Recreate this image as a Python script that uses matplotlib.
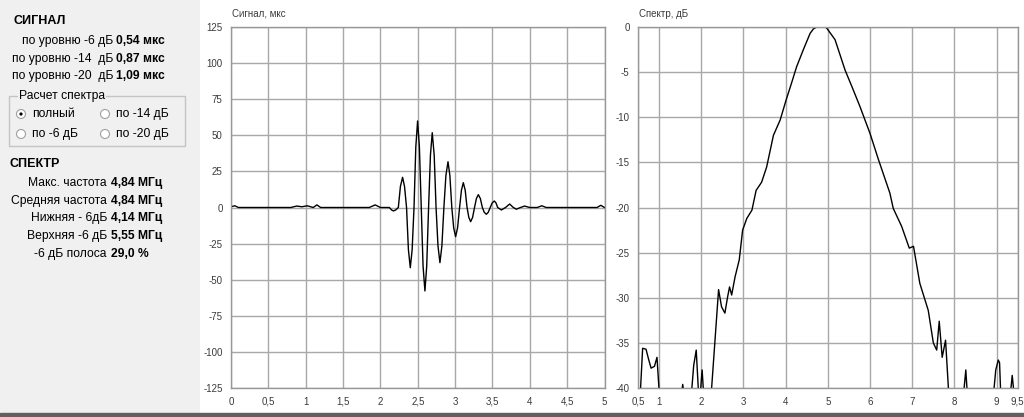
import numpy as np
import matplotlib
matplotlib.use('Agg')
import matplotlib.pyplot as plt
from matplotlib.patches import Rectangle, Circle

plt.rcParams['font.family'] = ['Liberation Sans', 'DejaVu Sans']
plt.rcParams['axes.unicode_minus'] = False

# signal, time in mks / amplitude
sig_t = [0.0, 0.05, 0.1, 0.8, 0.88, 0.95, 1.02, 1.1, 1.15, 1.2, 1.85, 1.93, 2.0,
         2.12, 2.15, 2.175, 2.205, 2.24, 2.268, 2.297, 2.323, 2.35, 2.375, 2.40, 2.425,
         2.45, 2.474, 2.498, 2.522, 2.547, 2.571, 2.596, 2.62, 2.645, 2.67, 2.694, 2.72,
         2.745, 2.771, 2.797, 2.823, 2.85, 2.877, 2.905, 2.93, 2.956, 2.981, 3.007, 3.033,
         3.06, 3.085, 3.11, 3.135, 3.16, 3.184, 3.208, 3.234, 3.26, 3.285, 3.311, 3.338,
         3.365, 3.39, 3.418, 3.444, 3.47, 3.497, 3.525, 3.547, 3.57, 3.62, 3.675, 3.73,
         3.78, 3.82, 3.875, 3.93, 4.0, 4.1, 4.16, 4.22, 4.9, 4.95, 5.0]
sig_v = [0.5, 1.2, 0, 0, 1.0, 0.5, 1.2, 0, 1.8, 0, 0, 1.8, 0,
         0, -1.7, -2.4, -1.7, 0, 14.6, 20.9, 14.6, 0, -29.2, -41.7, -29.2,
         0, 41.9, 59.9, 41.9, 0, -40.5, -57.8, -40.5, 0, 36.3, 51.8, 36.3,
         0, -26.7, -38.2, -26.7, 0, 22.2, 31.7, 22.2, 0, -14.1, -20.2, -14.1,
         0, 12.0, 17.2, 12.0, 0, -6.9, -9.8, -6.9, 0, 6.2, 8.9, 6.2,
         0, -3.3, -4.7, -3.3, 0, 3.2, 4.5, 3.2, 0, -1.7, 0, 2.4,
         0, -1.2, 0, 1.0, 0, 0, 1.2, 0, 0, 1.5, 0]

# spectrum, MHz / dB (values below -40 are off the chart)
spec_f = [0.50, 0.55, 0.61, 0.69, 0.75, 0.81, 0.89, 0.95, 1.01, 1.52, 1.56, 1.60,
          1.76, 1.82, 1.88, 1.94, 1.97, 2.02, 2.06, 2.23, 2.41, 2.48, 2.56, 2.62,
          2.67, 2.72, 2.80, 2.90, 2.98, 3.08, 3.20, 3.30, 3.43, 3.55, 3.71, 3.87,
          4.01, 4.14, 4.26, 4.42, 4.58, 4.66, 4.74, 4.84, 4.93, 4.97, 5.17, 5.41,
          5.57, 5.76, 6.00, 6.20, 6.47, 6.55, 6.75, 6.93, 7.03, 7.18, 7.38, 7.50,
          7.58, 7.64, 7.71, 7.79, 7.87, 8.21, 8.27, 8.31, 8.92, 8.98, 9.04, 9.07,
          9.10, 9.32, 9.37, 9.42, 9.5]
spec_db = [-41, -41, -35.6, -35.7, -36.8, -37.8, -37.6, -36.6, -41, -41, -39.6, -41,
           -41, -37.5, -35.8, -41, -41, -38.0, -41, -41, -29.1, -31.0, -31.7, -30.0,
           -28.8, -29.7, -27.7, -25.8, -22.5, -21.2, -20.3, -18.1, -17.2, -15.5, -12.0, -10.3,
           -8.1, -6.2, -4.4, -2.5, -0.7, -0.2, 0, 0, 0, -0.1, -1.4, -4.8,
           -6.6, -8.8, -11.8, -14.7, -18.4, -20.1, -22.1, -24.5, -24.3, -28.4, -31.4, -35.0,
           -35.8, -32.6, -36.6, -34.7, -41, -41, -38.0, -41, -41, -38.0, -36.9, -37.2,
           -41, -41, -38.6, -41, -41]

sig_xticks = [0, 0.5, 1, 1.5, 2, 2.5, 3, 3.5, 4, 4.5, 5]
sig_xlabels = ['0', '0,5', '1', '1,5', '2', '2,5', '3', '3,5', '4', '4,5', '5']
sig_yticks = [-125, -100, -75, -50, -25, 0, 25, 50, 75, 100, 125]
spec_xticks = [0.5, 1, 2, 3, 4, 5, 6, 7, 8, 9, 9.5]
spec_xlabels = ['0,5', '1', '2', '3', '4', '5', '6', '7', '8', '9', '9,5']
spec_yticks = [-40, -35, -30, -25, -20, -15, -10, -5, 0]

sig_names = ['по уровню -6 дБ', 'по уровню -14  дБ', 'по уровню -20  дБ']
sig_vals = ['0,54 мкс', '0,87 мкс', '1,09 мкс']
spec_names = ['Макс. частота', 'Средняя частота', 'Нижняя - 6дБ', 'Верхняя -6 дБ', '-6 дБ полоса']
spec_vals = ['4,84 МГц', '4,84 МГц', '4,14 МГц', '5,55 МГц', '29,0 %']
radio_names = ['полный', 'по -14 дБ', 'по -6 дБ', 'по -20 дБ']

W, H = 1024, 417
fig = plt.figure(figsize=(W/100, H/100), dpi=100)
fig.patch.set_facecolor('white')

gridc = '#a8a8a8'
tickc = '#3a3a3a'

def style(ax):
    ax.grid(True, color=gridc, lw=1)
    ax.set_axisbelow(True)
    for s in ax.spines.values():
        s.set_color('#989898')
        s.set_linewidth(1)
    ax.tick_params(length=0, labelsize=7, colors=tickc)
    ax.tick_params(axis='y', pad=6)
    ax.tick_params(axis='x', pad=12)
    for lab in ax.get_xticklabels():
        lab.set_verticalalignment('baseline')

# left chart - signal
ax1 = fig.add_axes([231/W, 1-388/H, 373.5/W, 361/H])
ax1.plot(sig_t, sig_v, color='black', lw=1)
ax1.set_xlim(0, 5)
ax1.set_ylim(-125, 125)
ax1.set_xticks(sig_xticks)
ax1.set_xticklabels(sig_xlabels)
ax1.set_yticks(sig_yticks)
style(ax1)
fig.text(232/W, 1-14/H, 'Сигнал, мкс', fontsize=7, color=tickc, va='center')

# right chart - spectrum
ax2 = fig.add_axes([638/W, 1-388/H, 379.7/W, 361/H])
ax2.plot(spec_f, spec_db, color='black', lw=1)
ax2.set_xlim(0.5, 9.5)
ax2.set_ylim(-40, 0)
ax2.set_xticks(spec_xticks)
ax2.set_xticklabels(spec_xlabels)
ax2.set_yticks(spec_yticks)
style(ax2)
fig.text(639/W, 1-14/H, 'Спектр, дБ', fontsize=7, color=tickc, va='center')

# left info panel, pixel coordinates
ap = fig.add_axes([0, 0, 200/W, 1])
ap.set_xlim(0, 200)
ap.set_ylim(H, 0)
ap.axis('off')
ap.add_patch(Rectangle((0, 0), 200, H, color='#f0f0f0', zorder=0))

fs = 8.7
ap.text(13, 21, 'СИГНАЛ', fontsize=9, fontweight='bold', va='center')
for k in range(3):
    y = 41 + k*17.5
    ap.text(113, y, sig_names[k], fontsize=fs, ha='right', va='center')
    ap.text(116, y, sig_vals[k], fontsize=fs, fontweight='bold', va='center')

ap.add_patch(Rectangle((9, 96), 176, 50, fill=False, ec='#c4c4c4', lw=1))
ap.text(19, 96, 'Расчет спектра', fontsize=fs, va='center',
        bbox=dict(fc='#f0f0f0', ec='none', pad=1))
rpos = [(21, 114), (105, 114), (21, 134), (105, 134)]
for k in range(4):
    cx, cy = rpos[k]
    ap.add_patch(Circle((cx, cy), 4.5, fc='white', ec='#a0a0a0', lw=0.8))
    if k == 0:
        ap.add_patch(Circle((cx, cy), 1.6, fc='black', ec='none'))
    ap.text(cx+11, cy, radio_names[k], fontsize=fs, va='center')

ap.text(9, 164, 'СПЕКТР', fontsize=9, fontweight='bold', va='center')
for k in range(5):
    y = 183 + k*17.7
    ap.text(107, y, spec_names[k], fontsize=fs, ha='right', va='center')
    ap.text(111, y, spec_vals[k], fontsize=fs, fontweight='bold', va='center')

# bottom window border
fig.patches.append(Rectangle((0, 0), 1, 4/H, transform=fig.transFigure,
                             color='#606060', zorder=10))

fig.savefig('out.png', dpi=100)
